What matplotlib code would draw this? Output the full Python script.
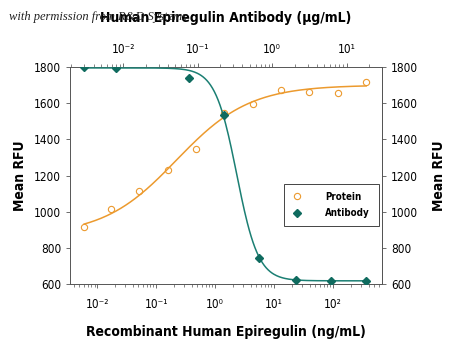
import numpy as np
import matplotlib
matplotlib.use("Agg")
import matplotlib.pyplot as plt
from matplotlib.ticker import LogLocator, NullFormatter

# ---- data ----
protein_x = [0.006, 0.017, 0.052, 0.158, 0.47, 1.44, 4.45, 13.1, 39.6, 120, 363]      # ng/mL
protein_y = [917, 1013, 1117, 1233, 1348, 1546, 1593, 1672, 1661, 1657, 1717]
antibody_x = [0.003, 0.008, 0.077, 0.229, 0.676, 2.08, 6.1, 18.3]                    # ug/mL
antibody_y = [1800, 1792, 1739, 1537, 743, 622, 617, 617]
# 4PL fit parameters (bottom, top, EC50, hill)
protein_fit = (870, 1700, 0.22, 0.7)
antibody_fit = (618, 1795, 0.335, 3.0)
yticks = [600, 800, 1000, 1200, 1400, 1600, 1800]
bottom_ticklabels = ['10\u207b\u00b2', '10\u207b\u00b9', '10\u2070', '10\u00b9', '10\u00b2']
top_ticklabels = ['10\u207b\u00b2', '10\u207b\u00b9', '10\u2070', '10\u00b9']

orange = "#EC9A2E"
teal = "#1B7F73"
teal_dark = "#0F6B5F"

plt.rcParams['font.family'] = ['DejaVu Sans']
plt.rcParams['font.stretch'] = 'condensed'

fig = plt.figure(figsize=(4.5, 3.49), dpi=100)
ax = fig.add_axes([0.156, 0.186, 0.693, 0.622])

def fpl_up(x, b, t, c, h):
    return b + (t - b) / (1 + (c / x) ** h)

def fpl_down(x, b, t, c, h):
    return b + (t - b) / (1 + (x / c) ** h)

px = np.logspace(np.log10(protein_x[0]), np.log10(protein_x[-1]), 300)
ax.plot(px, fpl_up(px, *protein_fit), color=orange, lw=1.1, zorder=2)
ax.plot(protein_x, protein_y, 'o', mfc='none', mec=orange, ms=4.5, mew=0.8,
        zorder=3, label='Protein')

tick_kw = dict(labelsize=8.5, length=3, width=0.6, color='#555555')
lab_kw = dict(fontsize=10, fontweight='bold')

ax.set_xscale('log')
ax.set_xlim(10 ** -2.458, 10 ** 2.83)
ax.set_ylim(600, 1800)
ax.set_yticks(yticks)
ax.set_xticks([1e-2, 1e-1, 1, 10, 100])
ax.set_xticklabels(bottom_ticklabels)
ax.xaxis.set_minor_locator(LogLocator(base=10, subs=np.arange(2, 10), numticks=20))
ax.xaxis.set_minor_formatter(NullFormatter())
ax.tick_params(axis='both', which='major', **tick_kw)
ax.tick_params(axis='x', which='minor', length=2, width=0.5, color='#555555')
ax.tick_params(axis='x', which='major', pad=7)
for s in ax.spines.values():
    s.set_linewidth(0.7)
    s.set_color('#555555')
ax.set_xlabel('Recombinant Human Epiregulin (ng/mL)', labelpad=10, **lab_kw)
ax.set_ylabel('Mean RFU', labelpad=5, **lab_kw)

sec = ax.secondary_yaxis('right')
sec.set_yticks(yticks)
sec.tick_params(**tick_kw)
sec.set_ylabel('Mean RFU', labelpad=10, **lab_kw)
sec.spines['right'].set_linewidth(0.7)
sec.spines['right'].set_color('#555555')

ax2 = ax.twiny()
ax2.set_xscale('log')
ax2.set_xlim(10 ** -2.711, 10 ** 1.476)
ax2.set_xticks([1e-2, 1e-1, 1, 10])
ax2.set_xticklabels(top_ticklabels)
ax2.xaxis.set_minor_locator(LogLocator(base=10, subs=np.arange(2, 10), numticks=20))
ax2.xaxis.set_minor_formatter(NullFormatter())
ax2.tick_params(axis='x', which='major', pad=5, **tick_kw)
ax2.tick_params(axis='x', which='minor', length=2, width=0.5, color='#555555')
for s in ax2.spines.values():
    s.set_visible(False)

axx = np.logspace(np.log10(antibody_x[0]), np.log10(antibody_x[-1]), 300)
ax2.plot(axx, fpl_down(axx, *antibody_fit), color=teal, lw=1.1, zorder=2)
ax2.plot(antibody_x, antibody_y, 'D', color=teal_dark, ms=4, zorder=4, label='Antibody')
ax2.set_xlabel('Human Epiregulin Antibody (\u00b5g/mL)', labelpad=15, **lab_kw)

h1, l1 = ax.get_legend_handles_labels()
h2, l2 = ax2.get_legend_handles_labels()
leg = ax2.legend(h1 + h2, l1 + l2, loc='lower left', bbox_to_anchor=(0.686, 0.267, 0.304, 0.203),
                 mode='expand', fancybox=False, framealpha=1, edgecolor='#444444',
                 prop={'size': 7, 'weight': 'bold', 'stretch': 'condensed'},
                 handletextpad=2.4, borderpad=0.8, labelspacing=0.7, handlelength=1.0,
                 borderaxespad=0)
leg.get_frame().set_linewidth(0.7)

fig.text(0.02, 0.952, 'with permission from R&D Systems', fontsize=9, style='italic',
         family=['Liberation Serif', 'DejaVu Serif'], stretch='normal',
         color='#222222', va='center')

fig.savefig('out.png', dpi=100)
